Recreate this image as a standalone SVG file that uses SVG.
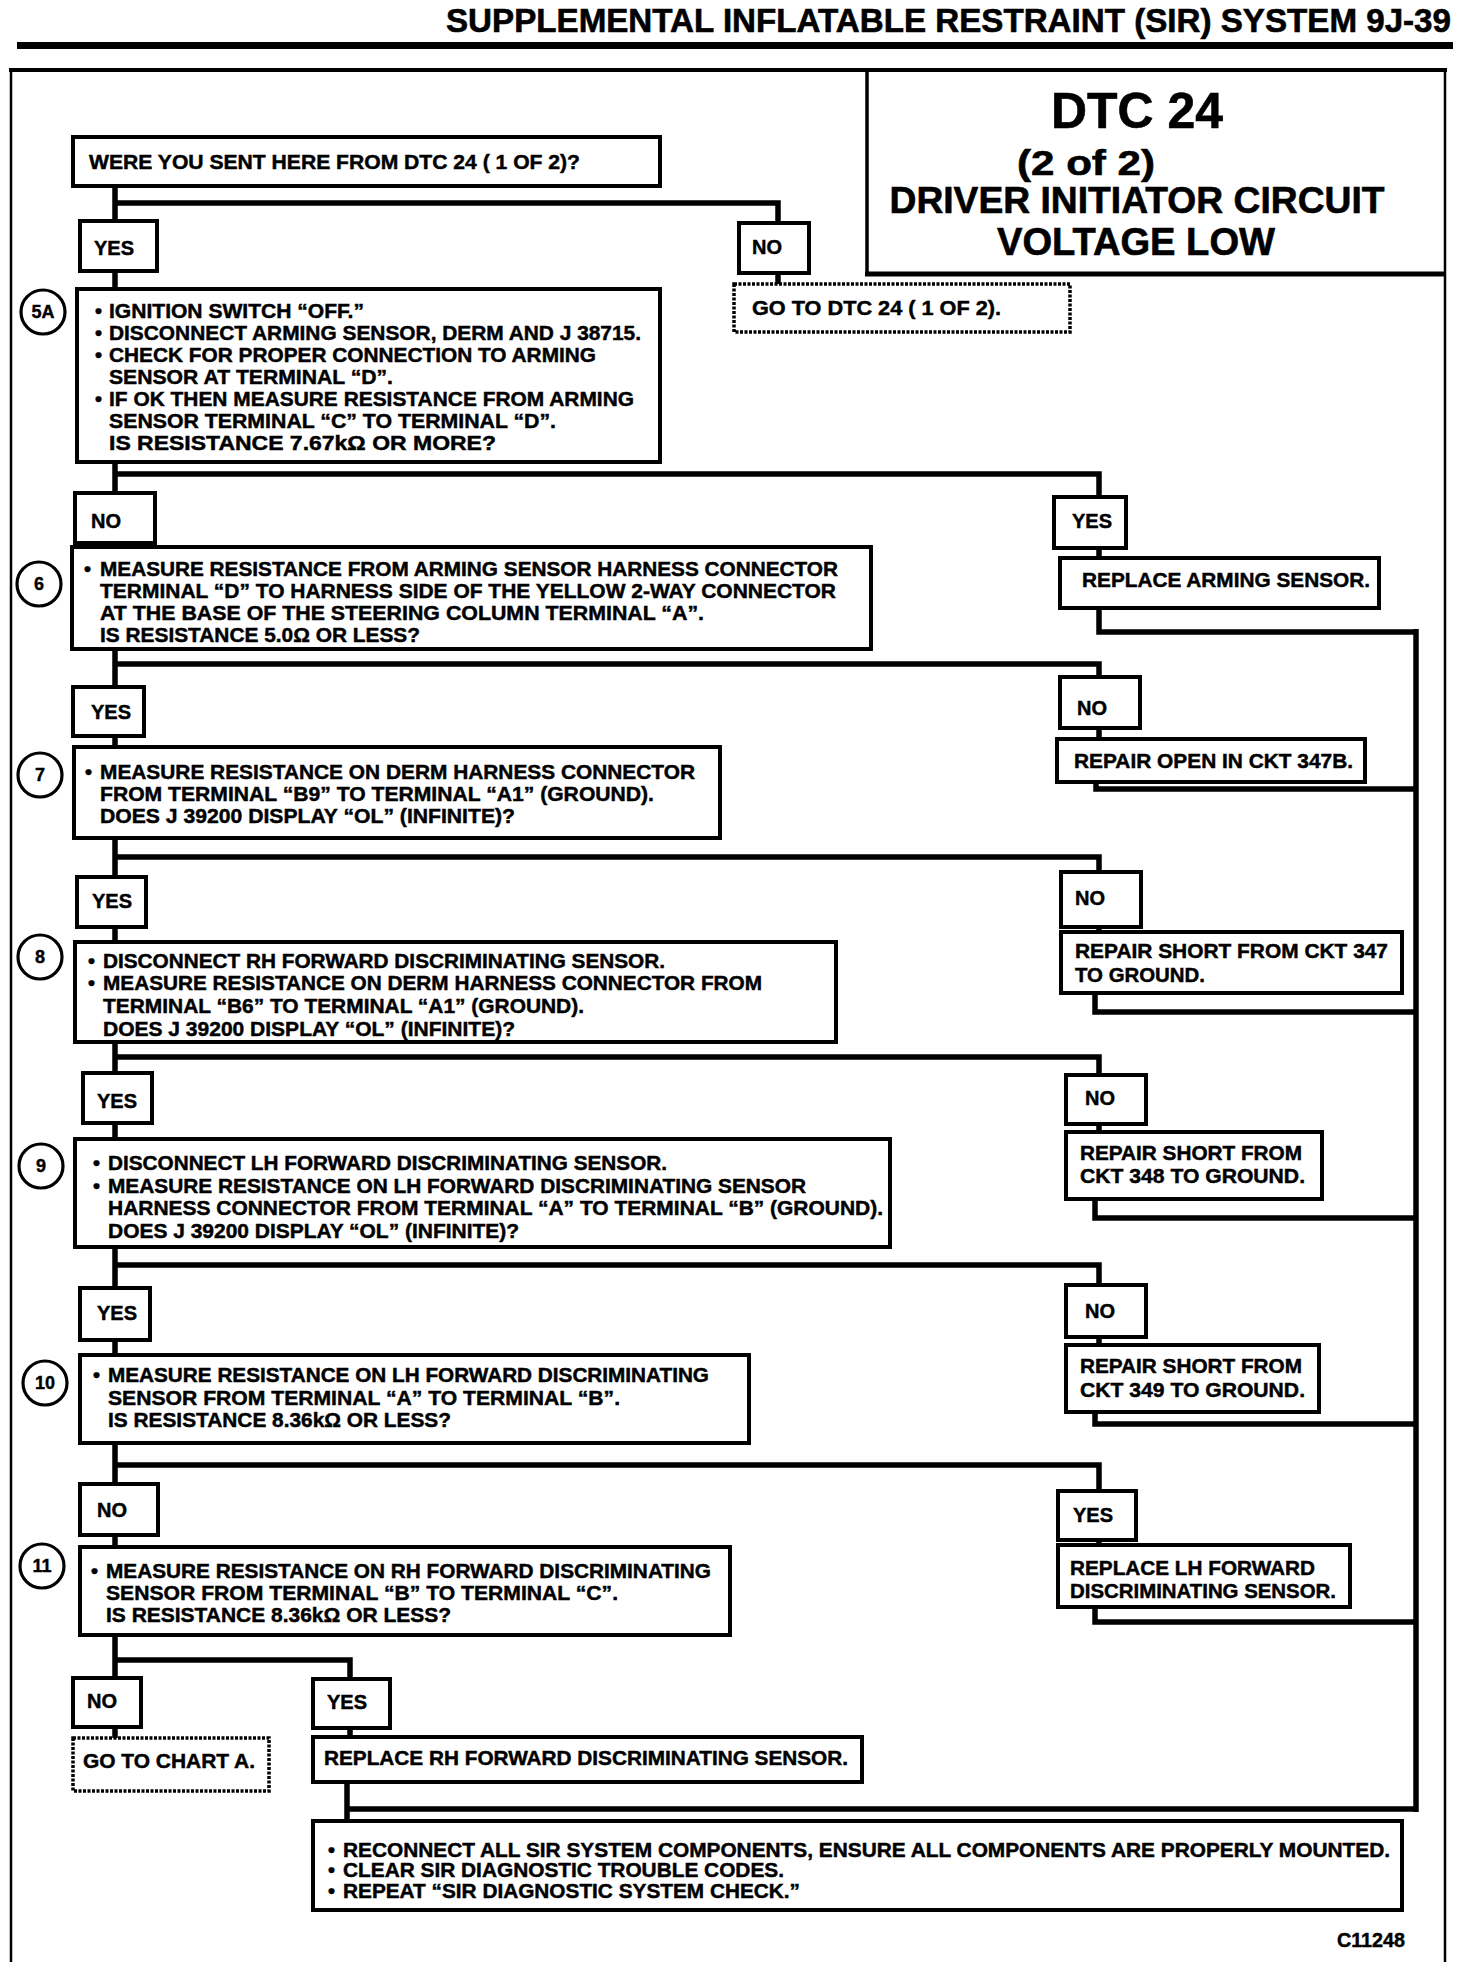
<svg xmlns="http://www.w3.org/2000/svg" width="1472" height="1962" viewBox="0 0 1472 1962">
<style>
.bg{fill:#fff}
.box{fill:#fff;stroke:#000;stroke-width:4}
.dash{fill:#fff;stroke:#000;stroke-width:3.5;stroke-dasharray:3 1.5}
.t{font-family:"Liberation Sans",Arial,Helvetica,sans-serif;font-weight:bold;font-size:20px;fill:#000;stroke:#000;stroke-width:0.45}
.hd{font-family:"Liberation Sans",Arial,Helvetica,sans-serif;font-weight:bold;fill:#000;stroke:#000;stroke-width:0.6}
.num{fill:#fff;stroke:#000;stroke-width:3.2}
.nt{font-family:"Liberation Sans",Arial,Helvetica,sans-serif;font-weight:bold;font-size:18px;fill:#000;stroke:#000;stroke-width:0.4;text-anchor:middle}
.c{fill:none;stroke:#000;stroke-width:5.5;stroke-linejoin:miter;stroke-linecap:butt}
.fr{fill:none;stroke:#000}
</style>
<rect class="bg" x="0" y="0" width="1472" height="1962"/>

<g id="header">
<text class="hd" x="1451" y="32" font-size="33" text-anchor="end" textLength="1005" lengthAdjust="spacingAndGlyphs">SUPPLEMENTAL INFLATABLE RESTRAINT (SIR) SYSTEM 9J-39</text>
<rect x="17" y="42" width="1436" height="7" fill="#000"/>
</g>

<g id="frame">
<line class="fr" x1="9" y1="70" x2="1447" y2="70" stroke-width="4"/>
<line class="fr" x1="11" y1="70" x2="11" y2="1962" stroke-width="2.5"/>
<line class="fr" x1="1445" y1="70" x2="1445" y2="1962" stroke-width="2.5"/>
</g>

<g id="title-box">
<line class="fr" x1="867" y1="70" x2="867" y2="276" stroke-width="3.5"/>
<line class="fr" x1="865" y1="274" x2="1446" y2="274" stroke-width="5"/>
<text class="hd" x="1137" y="128" font-size="50" text-anchor="middle" textLength="172" lengthAdjust="spacingAndGlyphs">DTC 24</text>
<text class="hd" x="1086" y="175" font-size="35" text-anchor="middle" textLength="138" lengthAdjust="spacingAndGlyphs">(2 of 2)</text>
<text class="hd" x="1137" y="213" font-size="37" text-anchor="middle" textLength="495" lengthAdjust="spacingAndGlyphs">DRIVER INITIATOR CIRCUIT</text>
<text class="hd" x="1136" y="255" font-size="38" text-anchor="middle" textLength="278" lengthAdjust="spacingAndGlyphs">VOLTAGE LOW</text>
</g>

<g id="connectors">
<path class="c" d="M115,186 V221 M115,271 V289 M115,462 V493 M115,543 V547 M115,649 V687 M115,736 V747 M115,838 V877 M115,927 V942 M115,1042 V1073 M115,1123 V1139 M115,1247 V1288 M115,1340 V1355 M115,1443 V1484 M115,1535 V1547 M115,1635 V1678 M115,1727 V1738"/>
<path class="c" d="M115,203 H778 V223 M778,273 V284"/>
<path class="c" d="M115,474 H1099 V497 M1099,548 V558 M1099,608 V632 H1418"/>
<path class="c" d="M115,664 H1099 V677 M1099,728 V739 M1096,782 V789 H1418"/>
<path class="c" d="M115,857 H1099 V872 M1099,927 V932 M1095,993 V1012 H1418"/>
<path class="c" d="M115,1057 H1099 V1075 M1099,1124 V1132 M1095,1199 V1218 H1418"/>
<path class="c" d="M115,1265 H1099 V1285 M1099,1337 V1345 M1095,1412 V1424 H1418"/>
<path class="c" d="M115,1465 H1099 V1491 M1099,1540 V1545 M1095,1607 V1622 H1418"/>
<path class="c" d="M115,1660 H350 V1679 M350,1728 V1737 M347,1782 V1821 M347,1809 H1418"/>
<path class="c" d="M1416,629 V1812"/>
</g>

<g id="q0">
<rect class="box" x="73" y="137" width="587" height="49"/>
<text class="t" x="89" y="169" textLength="491" lengthAdjust="spacingAndGlyphs">WERE YOU SENT HERE FROM DTC 24 ( 1 OF 2)?</text>
</g>
<g id="yes0"><rect class="box" x="80" y="221" width="77" height="50"/><text class="t" x="94" y="255">YES</text></g>
<g id="no0"><rect class="box" x="739" y="223" width="70" height="50"/><text class="t" x="752" y="254">NO</text></g>
<g id="goto1">
<rect class="dash" x="734" y="284" width="336" height="48"/>
<text class="t" x="752" y="315" textLength="249" lengthAdjust="spacingAndGlyphs">GO TO DTC 24 ( 1 OF 2).</text>
</g>

<g id="step5A">
<circle class="num" cx="43" cy="312" r="22"/><text class="nt" x="43" y="318">5A</text>
<rect class="box" x="77" y="289" width="583" height="173"/>
<text class="t" x="95" y="318">•</text>
<text class="t" x="109" y="318" textLength="255" lengthAdjust="spacingAndGlyphs">IGNITION SWITCH “OFF.”</text>
<text class="t" x="95" y="340">•</text>
<text class="t" x="109" y="340" textLength="532" lengthAdjust="spacingAndGlyphs">DISCONNECT ARMING SENSOR, DERM AND J 38715.</text>
<text class="t" x="95" y="362">•</text>
<text class="t" x="109" y="362" textLength="487" lengthAdjust="spacingAndGlyphs">CHECK FOR PROPER CONNECTION TO ARMING</text>
<text class="t" x="109" y="384" textLength="284" lengthAdjust="spacingAndGlyphs">SENSOR AT TERMINAL “D”.</text>
<text class="t" x="95" y="406">•</text>
<text class="t" x="109" y="406" textLength="525" lengthAdjust="spacingAndGlyphs">IF OK THEN MEASURE RESISTANCE FROM ARMING</text>
<text class="t" x="109" y="428" textLength="447" lengthAdjust="spacingAndGlyphs">SENSOR TERMINAL “C” TO TERMINAL “D”.</text>
<text class="t" x="109" y="450" textLength="387" lengthAdjust="spacingAndGlyphs">IS RESISTANCE 7.67kΩ OR MORE?</text>
</g>

<g id="no1"><rect class="box" x="75" y="493" width="80" height="50"/><text class="t" x="91" y="528">NO</text></g>
<g id="yes1"><rect class="box" x="1054" y="497" width="72" height="51"/><text class="t" x="1072" y="528">YES</text></g>
<g id="replace-arming">
<rect class="box" x="1060" y="558" width="319" height="50"/>
<text class="t" x="1082" y="587" textLength="288" lengthAdjust="spacingAndGlyphs">REPLACE ARMING SENSOR.</text>
</g>

<g id="step6">
<circle class="num" cx="39" cy="584" r="22"/><text class="nt" x="39" y="590">6</text>
<rect class="box" x="72" y="547" width="799" height="102"/>
<text class="t" x="84" y="576">•</text>
<text class="t" x="100" y="576" textLength="738" lengthAdjust="spacingAndGlyphs">MEASURE RESISTANCE FROM ARMING SENSOR HARNESS CONNECTOR</text>
<text class="t" x="100" y="598" textLength="736" lengthAdjust="spacingAndGlyphs">TERMINAL “D” TO HARNESS SIDE OF THE YELLOW 2-WAY CONNECTOR</text>
<text class="t" x="100" y="620" textLength="604" lengthAdjust="spacingAndGlyphs">AT THE BASE OF THE STEERING COLUMN  TERMINAL “A”.</text>
<text class="t" x="100" y="642" textLength="320" lengthAdjust="spacingAndGlyphs">IS RESISTANCE 5.0Ω OR LESS?</text>
</g>

<g id="yes2"><rect class="box" x="73" y="687" width="71" height="49"/><text class="t" x="91" y="719">YES</text></g>
<g id="no2"><rect class="box" x="1060" y="677" width="80" height="51"/><text class="t" x="1077" y="715">NO</text></g>
<g id="repair-open">
<rect class="box" x="1057" y="739" width="308" height="43"/>
<text class="t" x="1074" y="768" textLength="279" lengthAdjust="spacingAndGlyphs">REPAIR OPEN IN CKT 347B.</text>
</g>

<g id="step7">
<circle class="num" cx="40" cy="775" r="22"/><text class="nt" x="40" y="781">7</text>
<rect class="box" x="74" y="747" width="646" height="91"/>
<text class="t" x="85" y="779">•</text>
<text class="t" x="100" y="779" textLength="595" lengthAdjust="spacingAndGlyphs">MEASURE RESISTANCE ON DERM HARNESS CONNECTOR</text>
<text class="t" x="100" y="801" textLength="554" lengthAdjust="spacingAndGlyphs">FROM TERMINAL “B9” TO TERMINAL “A1” (GROUND).</text>
<text class="t" x="100" y="823" textLength="415" lengthAdjust="spacingAndGlyphs">DOES J 39200 DISPLAY “OL” (INFINITE)?</text>
</g>

<g id="yes3"><rect class="box" x="77" y="877" width="69" height="50"/><text class="t" x="92" y="908">YES</text></g>
<g id="no3"><rect class="box" x="1061" y="872" width="80" height="55"/><text class="t" x="1075" y="905">NO</text></g>
<g id="repair-short-347">
<rect class="box" x="1061" y="932" width="341" height="61"/>
<text class="t" x="1075" y="958" textLength="313" lengthAdjust="spacingAndGlyphs">REPAIR SHORT FROM CKT 347</text>
<text class="t" x="1075" y="982" textLength="130" lengthAdjust="spacingAndGlyphs">TO GROUND.</text>
</g>

<g id="step8">
<circle class="num" cx="40" cy="957" r="22"/><text class="nt" x="40" y="963">8</text>
<rect class="box" x="75" y="942" width="761" height="100"/>
<text class="t" x="88" y="968">•</text>
<text class="t" x="103" y="968" textLength="562" lengthAdjust="spacingAndGlyphs">DISCONNECT RH FORWARD DISCRIMINATING SENSOR.</text>
<text class="t" x="88" y="990">•</text>
<text class="t" x="103" y="990" textLength="659" lengthAdjust="spacingAndGlyphs">MEASURE RESISTANCE ON DERM HARNESS CONNECTOR FROM</text>
<text class="t" x="103" y="1013" textLength="481" lengthAdjust="spacingAndGlyphs">TERMINAL “B6” TO TERMINAL “A1” (GROUND).</text>
<text class="t" x="103" y="1036" textLength="412" lengthAdjust="spacingAndGlyphs">DOES J 39200 DISPLAY “OL” (INFINITE)?</text>
</g>

<g id="yes4"><rect class="box" x="83" y="1073" width="69" height="50"/><text class="t" x="97" y="1108">YES</text></g>
<g id="no4"><rect class="box" x="1066" y="1075" width="80" height="49"/><text class="t" x="1085" y="1105">NO</text></g>
<g id="repair-short-348">
<rect class="box" x="1066" y="1132" width="256" height="67"/>
<text class="t" x="1080" y="1160" textLength="222" lengthAdjust="spacingAndGlyphs">REPAIR SHORT FROM</text>
<text class="t" x="1080" y="1183" textLength="225" lengthAdjust="spacingAndGlyphs">CKT 348 TO GROUND.</text>
</g>

<g id="step9">
<circle class="num" cx="41" cy="1166" r="22"/><text class="nt" x="41" y="1172">9</text>
<rect class="box" x="75" y="1139" width="815" height="108"/>
<text class="t" x="93" y="1170">•</text>
<text class="t" x="108" y="1170" textLength="559" lengthAdjust="spacingAndGlyphs">DISCONNECT LH FORWARD DISCRIMINATING SENSOR.</text>
<text class="t" x="93" y="1193">•</text>
<text class="t" x="108" y="1193" textLength="698" lengthAdjust="spacingAndGlyphs">MEASURE RESISTANCE ON LH FORWARD DISCRIMINATING SENSOR</text>
<text class="t" x="108" y="1215" textLength="775" lengthAdjust="spacingAndGlyphs">HARNESS CONNECTOR FROM TERMINAL “A” TO TERMINAL “B” (GROUND).</text>
<text class="t" x="108" y="1238" textLength="411" lengthAdjust="spacingAndGlyphs">DOES J 39200 DISPLAY “OL” (INFINITE)?</text>
</g>

<g id="yes5"><rect class="box" x="80" y="1288" width="70" height="52"/><text class="t" x="97" y="1320">YES</text></g>
<g id="no5"><rect class="box" x="1066" y="1285" width="80" height="52"/><text class="t" x="1085" y="1318">NO</text></g>
<g id="repair-short-349">
<rect class="box" x="1066" y="1345" width="253" height="67"/>
<text class="t" x="1080" y="1373" textLength="222" lengthAdjust="spacingAndGlyphs">REPAIR SHORT FROM</text>
<text class="t" x="1080" y="1397" textLength="225" lengthAdjust="spacingAndGlyphs">CKT 349 TO GROUND.</text>
</g>

<g id="step10">
<circle class="num" cx="45" cy="1383" r="22"/><text class="nt" x="45" y="1389">10</text>
<rect class="box" x="80" y="1355" width="669" height="88"/>
<text class="t" x="93" y="1382">•</text>
<text class="t" x="108" y="1382" textLength="601" lengthAdjust="spacingAndGlyphs">MEASURE RESISTANCE ON LH FORWARD DISCRIMINATING</text>
<text class="t" x="108" y="1405" textLength="512" lengthAdjust="spacingAndGlyphs">SENSOR FROM TERMINAL “A” TO TERMINAL “B”.</text>
<text class="t" x="108" y="1427" textLength="343" lengthAdjust="spacingAndGlyphs">IS RESISTANCE 8.36kΩ OR LESS?</text>
</g>

<g id="no6"><rect class="box" x="80" y="1484" width="78" height="51"/><text class="t" x="97" y="1517">NO</text></g>
<g id="yes6"><rect class="box" x="1058" y="1491" width="78" height="49"/><text class="t" x="1073" y="1522">YES</text></g>
<g id="replace-lh">
<rect class="box" x="1058" y="1545" width="292" height="62"/>
<text class="t" x="1070" y="1575" textLength="245" lengthAdjust="spacingAndGlyphs">REPLACE LH FORWARD</text>
<text class="t" x="1070" y="1598" textLength="266" lengthAdjust="spacingAndGlyphs">DISCRIMINATING SENSOR.</text>
</g>

<g id="step11">
<circle class="num" cx="42" cy="1566" r="22"/><text class="nt" x="42" y="1572">11</text>
<rect class="box" x="80" y="1547" width="650" height="88"/>
<text class="t" x="91" y="1578">•</text>
<text class="t" x="106" y="1578" textLength="605" lengthAdjust="spacingAndGlyphs">MEASURE RESISTANCE ON RH FORWARD DISCRIMINATING</text>
<text class="t" x="106" y="1600" textLength="512" lengthAdjust="spacingAndGlyphs">SENSOR FROM TERMINAL “B” TO TERMINAL “C”.</text>
<text class="t" x="106" y="1622" textLength="345" lengthAdjust="spacingAndGlyphs">IS RESISTANCE 8.36kΩ OR LESS?</text>
</g>

<g id="no7"><rect class="box" x="73" y="1678" width="68" height="49"/><text class="t" x="87" y="1708">NO</text></g>
<g id="yes7"><rect class="box" x="313" y="1679" width="77" height="49"/><text class="t" x="327" y="1709">YES</text></g>
<g id="chart-a">
<rect class="dash" x="73" y="1738" width="196" height="53"/>
<text class="t" x="83" y="1768" textLength="172" lengthAdjust="spacingAndGlyphs">GO TO CHART A.</text>
</g>
<g id="replace-rh">
<rect class="box" x="313" y="1737" width="549" height="45"/>
<text class="t" x="324" y="1765" textLength="524" lengthAdjust="spacingAndGlyphs">REPLACE RH FORWARD DISCRIMINATING SENSOR.</text>
</g>

<g id="final">
<rect class="box" x="313" y="1821" width="1089" height="89"/>
<text class="t" x="328" y="1857">•</text>
<text class="t" x="343" y="1857" textLength="1047" lengthAdjust="spacingAndGlyphs">RECONNECT ALL SIR SYSTEM COMPONENTS, ENSURE ALL COMPONENTS ARE PROPERLY MOUNTED.</text>
<text class="t" x="328" y="1877">•</text>
<text class="t" x="343" y="1877" textLength="441" lengthAdjust="spacingAndGlyphs">CLEAR SIR DIAGNOSTIC TROUBLE CODES.</text>
<text class="t" x="328" y="1898">•</text>
<text class="t" x="343" y="1898" textLength="457" lengthAdjust="spacingAndGlyphs">REPEAT “SIR DIAGNOSTIC SYSTEM CHECK.”</text>
</g>

<text class="t" x="1405" y="1947" text-anchor="end" textLength="68" lengthAdjust="spacingAndGlyphs">C11248</text>
</svg>
